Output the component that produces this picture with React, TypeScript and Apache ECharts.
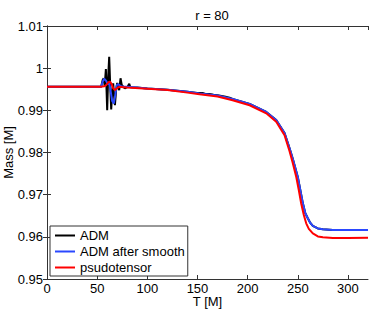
import React, { useEffect, useRef } from "react";
import * as echarts from "echarts";

const title = "r = 80";
const xTicks = [0, 50, 100, 150, 200, 250, 300];
const seriesNames = ["ADM", "ADM after smooth", "psudotensor"];

const redT = [0, 54, 57, 59, 61, 62.7, 64.5, 66, 67.7, 69.5, 72, 76, 80, 100, 120, 140, 152, 170, 185, 202, 218.6, 228.5, 236.8, 241.8, 245, 248.5, 251, 253.4, 256, 258.4, 261, 265, 270, 275, 285, 300, 320];
const redM = [0.9956, 0.9956, 0.9957, 0.996, 0.9966, 0.9968, 0.9962, 0.9952, 0.9948, 0.9952, 0.9956, 0.9955, 0.9954, 0.9951, 0.9948, 0.9942, 0.9938, 0.9933, 0.9924, 0.9912, 0.9893, 0.9873, 0.9841, 0.9803, 0.9775, 0.9742, 0.9711, 0.9679, 0.9652, 0.9632, 0.9619, 0.9608, 0.9601, 0.9599, 0.9597, 0.9597, 0.9598];

const blueT = [0, 54, 55.5, 57, 59, 60.5, 62, 63.5, 65, 66.5, 68, 69.5, 71, 73, 76, 80, 100, 120, 140, 152, 170, 185, 202, 218.6, 228.5, 236.8, 241.8, 245, 250, 252.5, 255, 257.5, 260, 262.5, 265, 270, 275, 285, 300, 320];
const blueM = [0.9956, 0.9956, 0.9968, 0.9975, 0.997, 0.9962, 0.9965, 0.9945, 0.9922, 0.9916, 0.9935, 0.996, 0.9962, 0.9958, 0.9956, 0.9956, 0.9952, 0.9949, 0.9944, 0.994, 0.9935, 0.9927, 0.9915, 0.9896, 0.9877, 0.9846, 0.981, 0.9785, 0.9742, 0.9711, 0.968, 0.9656, 0.9644, 0.9633, 0.9626, 0.962, 0.9618, 0.9616, 0.9616, 0.9616];

const blackT = [0, 54, 55.5, 56.5, 57.5, 58.7, 60, 61, 62, 63, 64, 65, 66, 67, 67.7, 69, 70, 71, 72, 73.3, 74.5, 76, 77.6, 80, 82, 83, 90, 100, 120, 140, 150, 155, 158, 162, 166, 170, 174, 178, 182, 185, 202, 218.6, 228.5, 236.8, 241.8, 245, 250, 252.5, 255, 257.5, 260, 262.5, 265, 270, 275, 285, 300, 320];
const blackM = [0.9956, 0.9956, 0.9972, 0.9976, 0.9958, 0.9998, 0.99, 0.998, 1.0027, 0.996, 0.9902, 0.994, 0.9964, 0.993, 0.9912, 0.995, 0.9965, 0.9955, 0.9948, 0.9976, 0.996, 0.9956, 0.9952, 0.9955, 0.9963, 0.9955, 0.9954, 0.9952, 0.9949, 0.9944, 0.9941, 0.9941, 0.9939, 0.9939, 0.9937, 0.9936, 0.9934, 0.9932, 0.993, 0.9927, 0.9915, 0.9896, 0.9877, 0.9846, 0.981, 0.9785, 0.9742, 0.9711, 0.968, 0.9656, 0.9644, 0.9633, 0.9626, 0.962, 0.9618, 0.9616, 0.9616, 0.9616];

const FONT = "'Liberation Sans', Arial, sans-serif";

export default function App() {
  const ref = useRef<HTMLDivElement>(null);
  useEffect(() => {
    if (!ref.current) return;
    const chart = echarts.init(ref.current, null, { renderer: "svg" });
    const pair = (t: number[], m: number[]) => t.map((v, i) => [v, m[i]]);
    const axisLine = { show: true, lineStyle: { color: "#333", width: 1 } };
    const tick = { show: true, inside: true, length: 4, lineStyle: { color: "#333" } };
    chart.setOption({
      animation: false,
      backgroundColor: "#fff",
      textStyle: { fontFamily: FONT },
      title: {
        text: title,
        left: 207,
        textAlign: "center",
        top: 4,
        textStyle: { fontSize: 13, fontWeight: "normal", color: "#000", fontFamily: FONT },
      },
      grid: { left: 47, right: 6, top: 26, bottom: 32, containLabel: false, outerBoundsMode: "none" },
      legend: {
        data: seriesNames,
        orient: "vertical",
        left: 50,
        top: 226,
        icon: "rect",
        itemWidth: 20,
        itemHeight: 2,
        itemGap: 1,
        padding: [2, 3, 1, 5],
        backgroundColor: "#fff",
        borderColor: "#333",
        borderWidth: 1,
        borderRadius: 0,
        textStyle: { fontSize: 13, color: "#000", fontFamily: FONT, lineHeight: 15 },
      },
      xAxis: [
        {
          type: "value",
          min: 0,
          max: 320,
          interval: 50,
          name: "T [M]",
          nameLocation: "middle",
          nameGap: 16,
          nameMoveOverlap: false,
          nameTextStyle: { fontSize: 13, color: "#000", fontFamily: FONT },
          axisLine,
          axisTick: tick,
          splitLine: { show: false },
          axisLabel: {
            fontSize: 13,
            color: "#000",
            margin: 3,
            showMaxLabel: false,
            formatter: (v: number) => (xTicks.includes(v) ? String(v) : ""),
          },
        },
        {
          type: "value",
          position: "top",
          min: 0,
          max: 320,
          interval: 50,
          axisLine,
          axisTick: tick,
          splitLine: { show: false },
          axisLabel: { show: false },
        },
      ],
      yAxis: [
        {
          type: "value",
          min: 0.95,
          max: 1.01,
          interval: 0.01,
          name: "Mass [M]",
          nameLocation: "middle",
          nameGap: 32,
          nameMoveOverlap: false,
          nameTextStyle: { fontSize: 13, color: "#000", fontFamily: FONT },
          axisLine,
          axisTick: tick,
          splitLine: { show: false },
          axisLabel: {
            fontSize: 13,
            color: "#000",
            margin: 4,
            formatter: (v: number) => String(parseFloat(v.toFixed(2))),
          },
        },
        {
          type: "value",
          position: "right",
          min: 0.95,
          max: 1.01,
          interval: 0.01,
          axisLine,
          axisTick: tick,
          splitLine: { show: false },
          axisLabel: { show: false },
        },
      ],
      series: [
        {
          name: seriesNames[0],
          type: "line",
          data: pair(blackT, blackM),
          showSymbol: false,
          color: "#000000",
          lineStyle: { width: 2, color: "#000000" },
          z: 2,
        },
        {
          name: seriesNames[1],
          type: "line",
          data: pair(blueT, blueM),
          showSymbol: false,
          color: "#2a48ff",
          lineStyle: { width: 2, color: "#2a48ff" },
          z: 3,
        },
        {
          name: seriesNames[2],
          type: "line",
          data: pair(redT, redM),
          showSymbol: false,
          color: "#ff0000",
          lineStyle: { width: 2, color: "#ff0000" },
          z: 4,
        },
      ],
    });
    return () => chart.dispose();
  }, []);
  return <div ref={ref} style={{ width: 374, height: 311, position: "absolute", left: 0, top: 0 }} />;
}
